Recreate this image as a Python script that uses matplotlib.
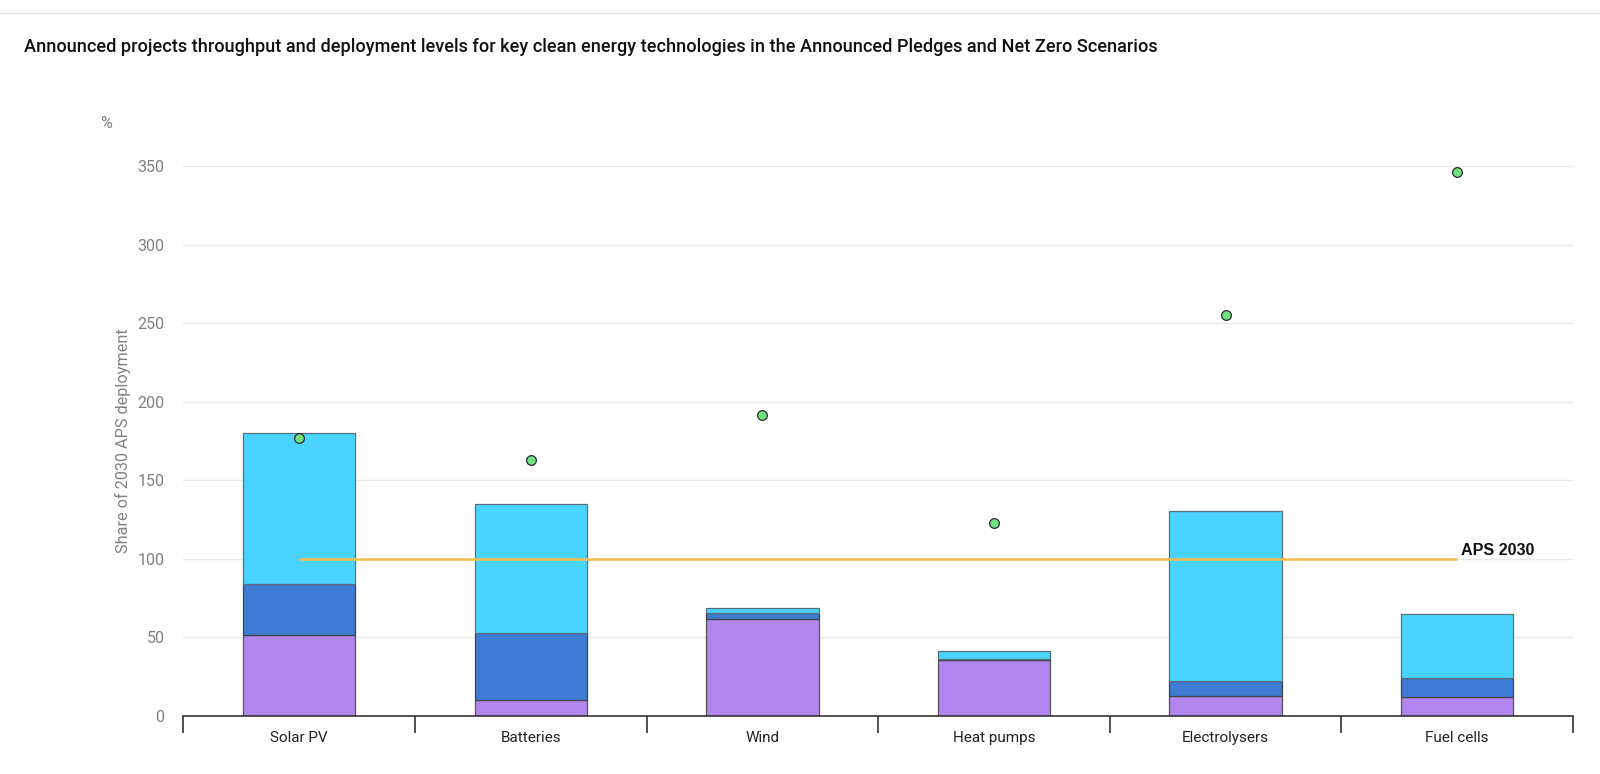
import matplotlib.pyplot as plt
from matplotlib.lines import Line2D

# --- data ---
categories = ["Solar PV", "Batteries", "Wind", "Heat pumps", "Electrolysers", "Fuel cells"]
seg_bottom = [51.5, 10.2, 61.9, 35.5, 12.7, 11.9]   # purple
seg_middle = [32.7, 42.8, 3.4, 0.5, 9.6, 12.1]      # dark blue
seg_top = [96.3, 81.9, 3.6, 5.3, 108.3, 41.1]       # light blue
nze_points = [176.8, 162.7, 191.9, 123.2, 255.5, 346.4]
aps_level = 100
y_ticks = [0, 50, 100, 150, 200, 250, 300, 350]

# --- colours ---
c_bottom = "#b186ee"
c_middle = "#3e7bd4"
c_top = "#48d4ff"
c_dot = "#6fe283"
c_line = "#f7bd4a"

plt.rcParams['font.family'] = ['Roboto', 'DejaVu Sans']

fig = plt.figure(figsize=(16, 7.74), dpi=100)
ax = fig.add_axes([0.1146, 0.0749, 0.9831 - 0.1146, 0.7102])

x = list(range(len(categories)))
w = 0.485
mid_base = seg_bottom
top_base = [a + b for a, b in zip(seg_bottom, seg_middle)]

ax.bar(x, seg_bottom, w, color=c_bottom, edgecolor="#555555", linewidth=0.9, zorder=2)
ax.bar(x, seg_middle, w, bottom=mid_base, color=c_middle, edgecolor="#444444", linewidth=0.9, zorder=2)
ax.bar(x, seg_top, w, bottom=top_base, color=c_top, edgecolor="#5a6f7a", linewidth=0.9, zorder=2)

ax.plot([x[0], x[-1]], [aps_level, aps_level], color=c_line, lw=1.8, zorder=3, solid_capstyle='butt')
ax.annotate("APS 2030", xy=(x[-1], aps_level), xytext=(3, 6), textcoords="offset points",
            fontsize=11.6, fontweight="bold", color="#111111", va="center", ha="left",
            family=['Liberation Sans', 'DejaVu Sans'])

ax.plot(x, nze_points, linestyle="none", marker="o", markersize=7,
        markerfacecolor=c_dot, markeredgecolor="#2b2b2b", markeredgewidth=0.9, zorder=4, clip_on=False)

ax.set_xlim(-0.5, len(categories) - 0.5)
ax.set_ylim(0, 350)
ax.set_yticks(y_ticks)
ax.grid(axis="y", color="#e8e8e8", linewidth=1, zorder=0)
ax.set_axisbelow(True)

for s in ["top", "right", "left"]:
    ax.spines[s].set_visible(False)
ax.spines["bottom"].set_color("#333333")
ax.spines["bottom"].set_linewidth(1.2)

ax.set_xticks([i - 0.5 for i in range(len(categories) + 1)], minor=True)
ax.set_xticks(x)
ax.set_xticklabels(categories, fontsize=11, color="#222222")
ax.tick_params(axis="x", which="major", length=0, pad=10.5)
ax.tick_params(axis="x", which="minor", length=12, width=1.2, color="#333333")
ax.tick_params(axis="y", length=0, labelsize=11.5, labelcolor="#808080", pad=13.5)

ax.set_ylabel("Share of 2030 APS deployment", fontsize=11.7, color="#808080", labelpad=5)
fig.text(0.0625, 0.840, "%", fontsize=11.5, color="#808080", va="center", ha="left")

fig.text(0.015, 0.939, "Announced projects throughput and deployment levels for key clean energy technologies "
         "in the Announced Pledges and Net Zero Scenarios",
         fontsize=13.1, fontweight="medium", color="#111111", va="center", ha="left")

fig.add_artist(Line2D([0, 1], [1 - 13 / 774, 1 - 13 / 774], color="#e3e3e3", lw=1, transform=fig.transFigure))

fig.savefig("out.png", dpi=100)
